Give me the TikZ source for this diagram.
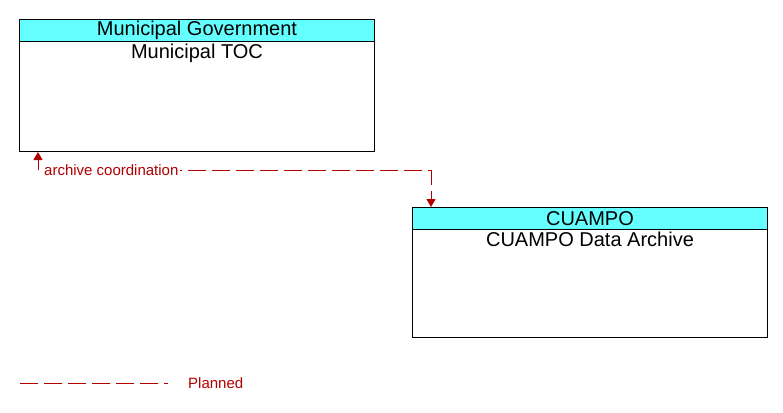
\documentclass[tikz,border=0pt]{standalone}
\usepackage{fontspec}
\setmainfont{Liberation Sans}
\usetikzlibrary{arrows.meta}
\definecolor{hdrcyan}{HTML}{66FFFF}
\definecolor{plannedred}{HTML}{B00000}

\begin{document}
\begin{tikzpicture}[
  x=1pt, y=-1pt,
  every node/.style={font=\fontsize{20}{22}\selectfont, black},
  hdr/.style={draw, line width=1pt, fill=hdrcyan, anchor=north west,
    minimum width=355pt, minimum height=22pt, inner sep=0pt},
  body/.style={draw, line width=1pt, anchor=north west,
    minimum width=355pt, inner sep=0pt},
  boxtext/.style={anchor=north, inner sep=0pt, yshift=-3pt},
  planned/.style={plannedred, line width=1pt, dash pattern=on 18pt off 6pt},
  flow/.style={planned, dash phase=8pt,
    {Triangle[length=8pt, width=9pt]}-{Triangle[length=8pt, width=9pt]}},
  flowlbl/.style={font=\fontsize{15}{17}\selectfont, plannedred, fill=white,
    inner xsep=2pt, inner ysep=1pt, anchor=west}
]
  \useasboundingbox (0,0) rectangle (783,412);

  %% ---- Municipal Government ------------------------------------------
  \node[body, minimum height=110pt] (toc) at (19,41) {};
  \node[hdr] (govhdr) at (19,19) {Municipal Government};
  \node[boxtext] (toctext) at (toc.north) {Municipal TOC};

  %% ---- CUAMPO ---------------------------------------------------------
  \node[body, minimum height=108pt] (arch) at (412,229) {};
  \node[hdr] (cuahdr) at (412,207) {CUAMPO};
  \node[boxtext] (archtext) at (arch.north) {CUAMPO Data Archive};

  %% ---- archive coordination -------------------------------------------
  \coordinate (bendA) at (38,170);
  \coordinate (bendB) at (431,170);
  \draw[flow] (bendA |- toc.south) -- (bendA) -- (bendB) -- (bendB |- cuahdr.north);
  \node[flowlbl] (archlbl) at (42,170) {archive coordination};

  %% ---- legend ---------------------------------------------------------
  \coordinate (legA) at (20,383);
  \coordinate (legB) at (168,383);
  \draw[planned] (legA) -- (legB);
  \node[flowlbl, fill=none] (leglbl) at (186,383) {Planned};

\end{tikzpicture}
\end{document}
